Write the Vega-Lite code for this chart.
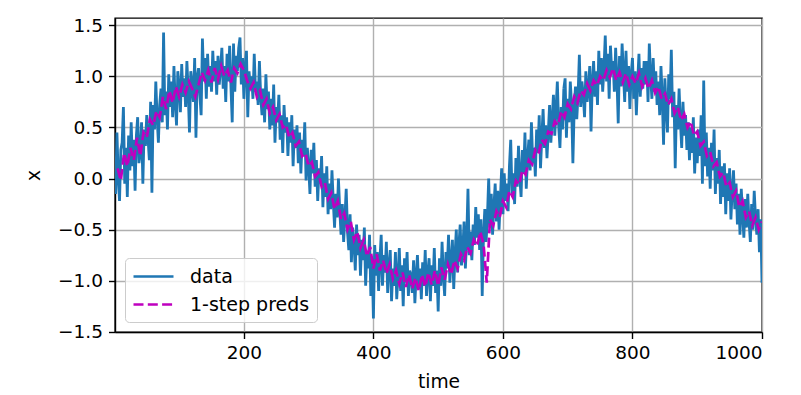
{
"$schema": "https://vega.github.io/schema/vega-lite/v6.json",
"width": 647, "height": 314,
"autosize": {"type": "none"},
"padding": {"left": 115, "top": 18, "right": 39, "bottom": 63},
"background": "white",
"config": {
  "font": "DejaVu Sans",
  "view": {"stroke": "black", "strokeWidth": 1.4},
  "axis": {"labelFont": "DejaVu Sans", "titleFont": "DejaVu Sans", "labelFontSize": 18.5, "titleFontSize": 18.7, "titleFontWeight": "normal", "labelColor": "black", "titleColor": "black", "domainColor": "black", "domainWidth": 1.4, "tickColor": "black", "tickWidth": 1.4, "tickSize": 6.5, "gridColor": "#b0b0b0", "gridWidth": 1.4, "grid": true},
  "legend": {"labelFont": "DejaVu Sans", "labelFontSize": 19, "labelColor": "black"}
},
"datasets": {
"d": [
{"t":1,"x":0.12},{"t":2,"x":-0.15},{"t":4,"x":0.45},{"t":6,"x":0.02},{"t":8,"x":-0.22},{"t":10,"x":0.28},{"t":12,"x":0.35},{"t":14,"x":0.70},{"t":16,"x":-0.05},{"t":18,"x":0.30},{"t":20,"x":-0.18},{"t":22,"x":0.42},{"t":24,"x":0.08},{"t":26,"x":0.55},{"t":28,"x":0.12},{"t":30,"x":0.38},{"t":32,"x":-0.12},{"t":34,"x":0.42},{"t":36,"x":0.60},{"t":38,"x":0.15},{"t":40,"x":0.25},{"t":42,"x":0.55},{"t":44,"x":-0.05},{"t":46,"x":0.48},{"t":48,"x":0.32},{"t":50,"x":0.62},{"t":52,"x":0.40},{"t":54,"x":0.18},{"t":56,"x":0.75},{"t":58,"x":-0.14},{"t":60,"x":0.72},{"t":62,"x":0.48},{"t":64,"x":0.95},{"t":66,"x":0.60},{"t":68,"x":0.35},{"t":70,"x":0.72},{"t":72,"x":0.88},{"t":74,"x":0.55},{"t":76,"x":1.43},{"t":78,"x":0.62},{"t":80,"x":0.85},{"t":82,"x":0.48},{"t":84,"x":1.02},{"t":86,"x":0.70},{"t":88,"x":0.95},{"t":90,"x":0.60},{"t":92,"x":1.10},{"t":94,"x":0.75},{"t":96,"x":0.52},{"t":98,"x":1.05},{"t":100,"x":0.90},{"t":102,"x":0.65},{"t":104,"x":1.12},{"t":106,"x":0.80},{"t":108,"x":0.98},{"t":110,"x":0.70},{"t":112,"x":1.15},{"t":114,"x":0.85},{"t":116,"x":0.45},{"t":118,"x":1.05},{"t":120,"x":0.92},{"t":122,"x":0.75},{"t":124,"x":1.18},{"t":126,"x":0.40},{"t":128,"x":1.00},{"t":130,"x":1.08},{"t":132,"x":0.82},{"t":134,"x":0.62},{"t":136,"x":1.37},{"t":138,"x":0.95},{"t":140,"x":1.18},{"t":142,"x":0.78},{"t":144,"x":1.22},{"t":146,"x":0.90},{"t":148,"x":1.10},{"t":150,"x":0.85},{"t":152,"x":1.25},{"t":154,"x":0.95},{"t":156,"x":1.15},{"t":158,"x":0.82},{"t":160,"x":1.20},{"t":162,"x":0.92},{"t":164,"x":1.08},{"t":166,"x":1.28},{"t":168,"x":0.88},{"t":170,"x":1.10},{"t":172,"x":0.75},{"t":174,"x":1.22},{"t":176,"x":0.95},{"t":178,"x":1.30},{"t":180,"x":0.90},{"t":182,"x":0.55},{"t":184,"x":1.32},{"t":186,"x":0.85},{"t":188,"x":1.20},{"t":190,"x":1.05},{"t":192,"x":1.28},{"t":194,"x":1.38},{"t":196,"x":0.92},{"t":198,"x":1.18},{"t":200,"x":0.78},{"t":202,"x":1.10},{"t":204,"x":1.25},{"t":206,"x":0.60},{"t":208,"x":1.05},{"t":210,"x":0.88},{"t":212,"x":1.00},{"t":214,"x":0.78},{"t":216,"x":1.22},{"t":218,"x":0.85},{"t":220,"x":0.95},{"t":222,"x":0.72},{"t":224,"x":1.15},{"t":226,"x":0.80},{"t":228,"x":0.62},{"t":230,"x":0.88},{"t":232,"x":0.55},{"t":234,"x":1.02},{"t":236,"x":0.68},{"t":238,"x":0.85},{"t":240,"x":0.48},{"t":242,"x":0.78},{"t":244,"x":0.52},{"t":246,"x":0.92},{"t":248,"x":0.35},{"t":250,"x":0.70},{"t":252,"x":0.55},{"t":254,"x":0.82},{"t":256,"x":0.38},{"t":258,"x":0.62},{"t":260,"x":0.25},{"t":262,"x":0.72},{"t":264,"x":0.45},{"t":266,"x":0.60},{"t":268,"x":0.22},{"t":270,"x":0.55},{"t":272,"x":0.35},{"t":274,"x":0.62},{"t":276,"x":0.12},{"t":278,"x":0.48},{"t":280,"x":0.30},{"t":282,"x":0.52},{"t":284,"x":0.15},{"t":286,"x":0.45},{"t":288,"x":0.05},{"t":290,"x":0.38},{"t":292,"x":0.22},{"t":294,"x":0.55},{"t":296,"x":-0.02},{"t":298,"x":0.30},{"t":300,"x":0.12},{"t":302,"x":-0.15},{"t":304,"x":0.28},{"t":306,"x":0.05},{"t":308,"x":0.35},{"t":310,"x":-0.08},{"t":312,"x":0.18},{"t":314,"x":-0.22},{"t":316,"x":0.10},{"t":318,"x":-0.05},{"t":320,"x":0.22},{"t":322,"x":-0.28},{"t":324,"x":0.05},{"t":326,"x":-0.18},{"t":328,"x":0.12},{"t":330,"x":-0.35},{"t":332,"x":-0.05},{"t":334,"x":-0.30},{"t":336,"x":0.08},{"t":338,"x":-0.22},{"t":340,"x":-0.48},{"t":342,"x":-0.15},{"t":344,"x":-0.38},{"t":346,"x":0.00},{"t":348,"x":-0.30},{"t":350,"x":-0.55},{"t":352,"x":-0.25},{"t":354,"x":-0.62},{"t":356,"x":-0.38},{"t":358,"x":-0.10},{"t":360,"x":-0.52},{"t":362,"x":-0.70},{"t":364,"x":-0.35},{"t":366,"x":-0.82},{"t":368,"x":-0.48},{"t":370,"x":-0.62},{"t":372,"x":-0.90},{"t":374,"x":-0.45},{"t":376,"x":-0.75},{"t":378,"x":-0.55},{"t":380,"x":-0.95},{"t":382,"x":-0.60},{"t":384,"x":-0.80},{"t":386,"x":-0.48},{"t":388,"x":-1.05},{"t":390,"x":-0.72},{"t":392,"x":-0.88},{"t":394,"x":-0.55},{"t":396,"x":-1.15},{"t":398,"x":-0.78},{"t":400,"x":-1.37},{"t":402,"x":-0.65},{"t":404,"x":-0.95},{"t":406,"x":-0.72},{"t":408,"x":-1.10},{"t":410,"x":-0.80},{"t":412,"x":-0.55},{"t":414,"x":-1.05},{"t":416,"x":-0.75},{"t":418,"x":-0.92},{"t":420,"x":-0.62},{"t":422,"x":-1.12},{"t":424,"x":-0.85},{"t":426,"x":-0.70},{"t":428,"x":-1.20},{"t":430,"x":-0.88},{"t":432,"x":-1.05},{"t":434,"x":-0.72},{"t":436,"x":-1.18},{"t":438,"x":-0.95},{"t":440,"x":-0.68},{"t":442,"x":-1.10},{"t":444,"x":-0.85},{"t":446,"x":-1.25},{"t":448,"x":-0.78},{"t":450,"x":-1.02},{"t":452,"x":-0.72},{"t":454,"x":-1.15},{"t":456,"x":-0.90},{"t":458,"x":-0.95},{"t":460,"x":-1.12},{"t":462,"x":-0.80},{"t":464,"x":-1.22},{"t":466,"x":-0.95},{"t":468,"x":-0.75},{"t":470,"x":-1.08},{"t":472,"x":-0.88},{"t":474,"x":-1.18},{"t":476,"x":-0.82},{"t":478,"x":-1.05},{"t":480,"x":-0.70},{"t":482,"x":-1.15},{"t":484,"x":-0.92},{"t":486,"x":-0.78},{"t":488,"x":-1.20},{"t":490,"x":-0.85},{"t":492,"x":-1.05},{"t":494,"x":-0.68},{"t":496,"x":-1.12},{"t":498,"x":-0.90},{"t":500,"x":-1.30},{"t":502,"x":-0.78},{"t":504,"x":-1.05},{"t":506,"x":-0.62},{"t":508,"x":-0.95},{"t":510,"x":-1.15},{"t":512,"x":-0.72},{"t":514,"x":-0.88},{"t":516,"x":-0.55},{"t":518,"x":-1.02},{"t":520,"x":-0.80},{"t":522,"x":-0.60},{"t":524,"x":-1.08},{"t":526,"x":-0.75},{"t":528,"x":-0.50},{"t":530,"x":-0.92},{"t":532,"x":-0.65},{"t":534,"x":-0.45},{"t":536,"x":-0.85},{"t":538,"x":-0.70},{"t":540,"x":-0.42},{"t":542,"x":-0.88},{"t":544,"x":-0.60},{"t":546,"x":-0.10},{"t":548,"x":-0.75},{"t":550,"x":-0.52},{"t":552,"x":-0.80},{"t":554,"x":-0.45},{"t":556,"x":-0.65},{"t":558,"x":-0.28},{"t":560,"x":-0.58},{"t":562,"x":-0.35},{"t":564,"x":-0.70},{"t":566,"x":-0.40},{"t":568,"x":-1.15},{"t":570,"x":-0.55},{"t":572,"x":-0.30},{"t":574,"x":-0.62},{"t":576,"x":-0.38},{"t":578,"x":0.00},{"t":580,"x":-0.48},{"t":582,"x":-0.15},{"t":584,"x":-0.55},{"t":586,"x":-0.28},{"t":588,"x":-0.05},{"t":590,"x":-0.42},{"t":592,"x":-0.12},{"t":594,"x":-0.50},{"t":596,"x":-0.20},{"t":598,"x":0.10},{"t":600,"x":-0.35},{"t":602,"x":0.05},{"t":604,"x":-0.22},{"t":606,"x":-0.05},{"t":608,"x":-0.32},{"t":610,"x":0.12},{"t":612,"x":0.38},{"t":614,"x":-0.15},{"t":616,"x":0.05},{"t":618,"x":-0.25},{"t":620,"x":0.20},{"t":622,"x":-0.08},{"t":624,"x":0.32},{"t":626,"x":0.02},{"t":628,"x":-0.18},{"t":630,"x":0.28},{"t":632,"x":0.05},{"t":634,"x":0.45},{"t":636,"x":-0.10},{"t":638,"x":0.20},{"t":640,"x":0.38},{"t":642,"x":0.08},{"t":644,"x":0.55},{"t":646,"x":0.15},{"t":648,"x":0.30},{"t":650,"x":0.02},{"t":652,"x":0.48},{"t":654,"x":0.25},{"t":656,"x":0.62},{"t":658,"x":0.10},{"t":660,"x":0.40},{"t":662,"x":0.68},{"t":664,"x":0.30},{"t":666,"x":0.52},{"t":668,"x":0.20},{"t":670,"x":0.45},{"t":672,"x":0.72},{"t":674,"x":0.35},{"t":676,"x":0.58},{"t":678,"x":0.82},{"t":680,"x":0.42},{"t":682,"x":0.68},{"t":684,"x":0.95},{"t":686,"x":0.52},{"t":688,"x":0.30},{"t":690,"x":0.70},{"t":692,"x":0.48},{"t":694,"x":0.88},{"t":696,"x":0.98},{"t":698,"x":0.40},{"t":700,"x":0.78},{"t":702,"x":0.55},{"t":704,"x":0.95},{"t":706,"x":0.72},{"t":708,"x":0.15},{"t":710,"x":0.68},{"t":712,"x":0.90},{"t":714,"x":0.58},{"t":716,"x":0.82},{"t":718,"x":1.21},{"t":720,"x":0.70},{"t":722,"x":0.95},{"t":724,"x":0.82},{"t":726,"x":0.60},{"t":728,"x":1.05},{"t":730,"x":0.75},{"t":732,"x":0.88},{"t":734,"x":1.10},{"t":736,"x":0.46},{"t":738,"x":0.95},{"t":740,"x":1.15},{"t":742,"x":0.80},{"t":744,"x":1.05},{"t":746,"x":0.72},{"t":748,"x":1.25},{"t":750,"x":0.92},{"t":752,"x":1.18},{"t":754,"x":0.85},{"t":756,"x":1.08},{"t":758,"x":1.40},{"t":760,"x":0.95},{"t":762,"x":1.22},{"t":764,"x":0.78},{"t":766,"x":1.30},{"t":768,"x":1.05},{"t":770,"x":1.15},{"t":772,"x":0.85},{"t":774,"x":1.28},{"t":776,"x":0.98},{"t":778,"x":0.54},{"t":780,"x":1.20},{"t":782,"x":0.90},{"t":784,"x":1.32},{"t":786,"x":1.05},{"t":788,"x":0.75},{"t":790,"x":1.25},{"t":792,"x":0.85},{"t":794,"x":1.10},{"t":796,"x":0.68},{"t":798,"x":1.02},{"t":800,"x":1.18},{"t":802,"x":0.78},{"t":804,"x":1.05},{"t":806,"x":0.62},{"t":808,"x":0.95},{"t":810,"x":1.22},{"t":812,"x":0.80},{"t":814,"x":1.08},{"t":816,"x":0.88},{"t":818,"x":1.15},{"t":820,"x":0.92},{"t":822,"x":1.15},{"t":824,"x":0.75},{"t":826,"x":1.32},{"t":828,"x":1.00},{"t":830,"x":0.78},{"t":832,"x":1.18},{"t":834,"x":0.85},{"t":836,"x":1.05},{"t":838,"x":0.72},{"t":840,"x":0.95},{"t":842,"x":0.62},{"t":844,"x":1.10},{"t":846,"x":0.80},{"t":848,"x":0.33},{"t":850,"x":0.98},{"t":852,"x":0.70},{"t":854,"x":0.45},{"t":856,"x":1.02},{"t":858,"x":0.78},{"t":860,"x":1.26},{"t":862,"x":0.60},{"t":864,"x":0.85},{"t":866,"x":0.10},{"t":868,"x":0.72},{"t":870,"x":0.48},{"t":872,"x":0.88},{"t":874,"x":0.55},{"t":876,"x":0.30},{"t":878,"x":0.75},{"t":880,"x":0.42},{"t":882,"x":0.62},{"t":884,"x":0.28},{"t":886,"x":0.55},{"t":888,"x":0.18},{"t":890,"x":0.50},{"t":892,"x":0.25},{"t":894,"x":0.60},{"t":896,"x":0.05},{"t":898,"x":0.40},{"t":900,"x":0.15},{"t":902,"x":0.48},{"t":904,"x":0.22},{"t":906,"x":0.62},{"t":908,"x":-0.05},{"t":910,"x":0.96},{"t":912,"x":0.12},{"t":914,"x":0.45},{"t":916,"x":0.02},{"t":918,"x":0.30},{"t":920,"x":-0.10},{"t":922,"x":0.35},{"t":924,"x":0.08},{"t":926,"x":0.48},{"t":928,"x":-0.15},{"t":930,"x":0.20},{"t":932,"x":-0.05},{"t":934,"x":0.28},{"t":936,"x":-0.25},{"t":938,"x":0.12},{"t":940,"x":-0.18},{"t":942,"x":0.15},{"t":944,"x":-0.35},{"t":946,"x":0.05},{"t":948,"x":-0.22},{"t":950,"x":0.10},{"t":952,"x":-0.40},{"t":954,"x":-0.12},{"t":956,"x":0.08},{"t":958,"x":-0.30},{"t":960,"x":-0.05},{"t":962,"x":-0.45},{"t":964,"x":-0.15},{"t":966,"x":-0.55},{"t":968,"x":-0.10},{"t":970,"x":-0.35},{"t":972,"x":-0.58},{"t":974,"x":-0.20},{"t":976,"x":-0.48},{"t":978,"x":-0.15},{"t":980,"x":-0.42},{"t":982,"x":-0.62},{"t":984,"x":-0.25},{"t":986,"x":-0.50},{"t":988,"x":-0.12},{"t":990,"x":-0.38},{"t":992,"x":-0.55},{"t":994,"x":-0.30},{"t":996,"x":-0.72},{"t":998,"x":-0.40},{"t":1000,"x":-1.02}
],
"p": [
{"t":5,"y":0.10},{"t":10,"y":-0.02},{"t":15,"y":0.25},{"t":20,"y":0.12},{"t":25,"y":0.30},{"t":30,"y":0.18},{"t":35,"y":0.40},{"t":40,"y":0.22},{"t":45,"y":0.45},{"t":50,"y":0.40},{"t":55,"y":0.58},{"t":60,"y":0.52},{"t":65,"y":0.66},{"t":70,"y":0.60},{"t":75,"y":0.80},{"t":80,"y":0.68},{"t":85,"y":0.86},{"t":90,"y":0.74},{"t":95,"y":0.90},{"t":100,"y":0.80},{"t":105,"y":0.92},{"t":110,"y":0.84},{"t":115,"y":0.95},{"t":120,"y":0.88},{"t":125,"y":0.80},{"t":130,"y":0.92},{"t":135,"y":1.04},{"t":140,"y":0.96},{"t":145,"y":1.06},{"t":150,"y":0.94},{"t":155,"y":1.08},{"t":160,"y":0.97},{"t":165,"y":1.10},{"t":170,"y":1.00},{"t":175,"y":1.06},{"t":180,"y":0.94},{"t":185,"y":1.08},{"t":190,"y":1.03},{"t":195,"y":1.12},{"t":200,"y":1.06},{"t":205,"y":0.96},{"t":210,"y":0.88},{"t":215,"y":0.94},{"t":220,"y":0.80},{"t":225,"y":0.86},{"t":230,"y":0.72},{"t":235,"y":0.78},{"t":240,"y":0.64},{"t":245,"y":0.70},{"t":250,"y":0.57},{"t":255,"y":0.63},{"t":260,"y":0.50},{"t":265,"y":0.53},{"t":270,"y":0.40},{"t":275,"y":0.45},{"t":280,"y":0.32},{"t":285,"y":0.36},{"t":290,"y":0.22},{"t":295,"y":0.25},{"t":300,"y":0.12},{"t":305,"y":0.16},{"t":310,"y":0.02},{"t":315,"y":0.06},{"t":320,"y":-0.08},{"t":325,"y":-0.04},{"t":330,"y":-0.20},{"t":335,"y":-0.14},{"t":340,"y":-0.30},{"t":345,"y":-0.22},{"t":350,"y":-0.40},{"t":355,"y":-0.34},{"t":360,"y":-0.50},{"t":365,"y":-0.42},{"t":370,"y":-0.60},{"t":375,"y":-0.52},{"t":380,"y":-0.68},{"t":385,"y":-0.60},{"t":390,"y":-0.76},{"t":395,"y":-0.67},{"t":400,"y":-0.88},{"t":405,"y":-0.74},{"t":410,"y":-0.90},{"t":415,"y":-0.80},{"t":420,"y":-0.93},{"t":425,"y":-0.84},{"t":430,"y":-0.98},{"t":435,"y":-0.90},{"t":440,"y":-1.03},{"t":445,"y":-0.92},{"t":450,"y":-1.06},{"t":455,"y":-0.94},{"t":460,"y":-1.08},{"t":465,"y":-0.97},{"t":470,"y":-1.10},{"t":475,"y":-0.94},{"t":480,"y":-1.06},{"t":485,"y":-0.92},{"t":490,"y":-1.04},{"t":495,"y":-0.90},{"t":500,"y":-1.05},{"t":505,"y":-0.87},{"t":510,"y":-0.99},{"t":515,"y":-0.84},{"t":520,"y":-0.94},{"t":525,"y":-0.80},{"t":530,"y":-0.88},{"t":535,"y":-0.74},{"t":540,"y":-0.80},{"t":545,"y":-0.67},{"t":550,"y":-0.73},{"t":555,"y":-0.60},{"t":560,"y":-0.66},{"t":565,"y":-0.52},{"t":570,"y":-0.64},{"t":575,"y":-1.02},{"t":580,"y":-0.40},{"t":585,"y":-0.46},{"t":590,"y":-0.32},{"t":595,"y":-0.38},{"t":600,"y":-0.22},{"t":605,"y":-0.28},{"t":610,"y":-0.12},{"t":615,"y":-0.18},{"t":620,"y":-0.02},{"t":625,"y":-0.06},{"t":630,"y":0.08},{"t":635,"y":0.04},{"t":640,"y":0.18},{"t":645,"y":0.14},{"t":650,"y":0.28},{"t":655,"y":0.24},{"t":660,"y":0.38},{"t":665,"y":0.34},{"t":670,"y":0.46},{"t":675,"y":0.44},{"t":680,"y":0.56},{"t":685,"y":0.52},{"t":690,"y":0.66},{"t":695,"y":0.60},{"t":700,"y":0.73},{"t":705,"y":0.68},{"t":710,"y":0.80},{"t":715,"y":0.74},{"t":720,"y":0.86},{"t":725,"y":0.82},{"t":730,"y":0.93},{"t":735,"y":0.86},{"t":740,"y":0.96},{"t":745,"y":0.91},{"t":750,"y":1.00},{"t":755,"y":0.96},{"t":760,"y":1.06},{"t":765,"y":0.99},{"t":770,"y":1.08},{"t":775,"y":0.96},{"t":780,"y":1.04},{"t":785,"y":0.94},{"t":790,"y":1.03},{"t":795,"y":0.92},{"t":800,"y":1.00},{"t":805,"y":0.93},{"t":810,"y":1.03},{"t":815,"y":0.90},{"t":820,"y":0.98},{"t":825,"y":0.88},{"t":830,"y":0.96},{"t":835,"y":0.84},{"t":840,"y":0.90},{"t":845,"y":0.78},{"t":850,"y":0.83},{"t":855,"y":0.72},{"t":860,"y":0.78},{"t":865,"y":0.64},{"t":870,"y":0.70},{"t":875,"y":0.57},{"t":880,"y":0.63},{"t":885,"y":0.50},{"t":890,"y":0.56},{"t":895,"y":0.42},{"t":900,"y":0.46},{"t":905,"y":0.32},{"t":910,"y":0.36},{"t":915,"y":0.22},{"t":920,"y":0.26},{"t":925,"y":0.12},{"t":930,"y":0.16},{"t":935,"y":0.02},{"t":940,"y":0.06},{"t":945,"y":-0.08},{"t":950,"y":-0.04},{"t":955,"y":-0.18},{"t":960,"y":-0.12},{"t":965,"y":-0.28},{"t":970,"y":-0.22},{"t":975,"y":-0.38},{"t":980,"y":-0.32},{"t":985,"y":-0.46},{"t":990,"y":-0.38},{"t":995,"y":-0.50},{"t":1000,"y":-0.42}
]
},
"encoding": {
  "x": {"field": "t", "type": "quantitative", "title": "time", "scale": {"domain": [1, 1000], "nice": false, "zero": false}, "axis": {"values": [200, 400, 600, 800, 1000], "format": "d", "labelPadding": 5, "titlePadding": 10}}
},
"layer": [
  {
    "data": {"name": "d"},
    "mark": {"type": "line", "strokeWidth": 2.8, "clip": true},
    "encoding": {
      "y": {"field": "x", "type": "quantitative", "title": "x", "scale": {"domain": [-1.502, 1.571], "nice": false, "zero": false}, "axis": {"values": [-1.5, -1, -0.5, 0, 0.5, 1, 1.5], "format": ".1f", "labelPadding": 6, "titlePadding": 14}},
      "color": {"datum": "data", "scale": {"domain": ["data", "1-step preds"], "range": ["#1f77b4", "#bf00bf"]}, "legend": {"title": null, "orient": "bottom-left", "offset": 10, "symbolType": "M-1,0H3", "symbolSize": 400, "symbolStrokeWidth": 2.7, "fillColor": "rgba(255,255,255,0.8)", "strokeColor": "#cccccc", "cornerRadius": 4, "padding": 7, "rowPadding": 6, "labelOffset": 35}},
      "strokeDash": {"datum": "data", "scale": {"domain": ["data", "1-step preds"], "range": [[1, 0], [10, 4.3]]}}
    }
  },
  {
    "data": {"name": "p"},
    "mark": {"type": "line", "strokeWidth": 2.7, "clip": true},
    "encoding": {
      "y": {"field": "y", "type": "quantitative"},
      "color": {"datum": "1-step preds"},
      "strokeDash": {"datum": "1-step preds"}
    }
  }
]
}
